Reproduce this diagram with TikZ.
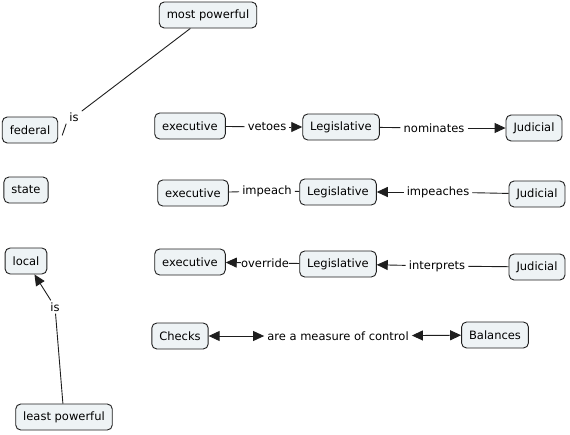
\documentclass[tikz,border=0pt]{standalone}
\usepackage{fontspec}
\setmainfont{DejaVu Sans}
\usetikzlibrary{arrows.meta}
\definecolor{boxfill}{RGB}{238,243,245}
\definecolor{boxline}{RGB}{30,30,30}
\begin{document}
\begin{tikzpicture}[x=1pt,y=-1pt,
  font=\fontsize{11.5}{13}\selectfont,
  concept/.style={draw=boxline,fill=boxfill,rounded corners=5pt,line width=0.9pt,minimum height=26pt,inner xsep=7.5pt,inner ysep=2pt},
  lbl/.style={inner xsep=3pt,inner ysep=2pt},
  link/.style={line width=0.9pt,draw=boxline},
  tip/.style={-{Triangle[length=11pt,width=10pt]}},
  both/.style={{Triangle[length=11pt,width=10pt]}-{Triangle[length=11pt,width=10pt]}}
]
\useasboundingbox (0,0) rectangle (570,434);
% left column
\node[concept] (mp) at (208,15) {most powerful};
\node[concept] (fed) at (30,130) {federal};
\node[concept] (st) at (26,190) {state};
\node[concept] (loc) at (26,261) {local};
\node[concept] (lp) at (64,417) {least powerful};
\node[lbl] (is1) at (74,117) {is};
\node[lbl] (is2) at (55,307) {is};
\coordinate (fedend) at ([shift={(4pt,8pt)}]fed.south east);
\draw[link] (mp) -- (is1);
\draw[link] (is1.south west) -- (fedend);
\draw[link] (lp) -- (is2);
\draw[link,tip] (is2) -- (loc);
% row 1
\node[concept] (ex1) at (190,126) {executive};
\node[concept] (le1) at (341,127) {Legislative};
\node[concept] (ju1) at (534,128) {Judicial};
\node[lbl] (vet) at (267,127) {vetoes};
\node[lbl] (nom) at (434,128) {nominates};
\draw[link] (ex1) -- (vet);
\draw[link,tip] (vet) -- (le1);
\draw[link] (le1) -- (nom);
\draw[link,tip] (nom) -- (ju1);
% row 2
\node[concept] (ex2) at (193,193) {executive};
\node[concept] (le2) at (338,192) {Legislative};
\node[concept] (ju2) at (537,194) {Judicial};
\node[lbl] (imp) at (267,191) {impeach};
\node[lbl] (imps) at (438,192) {impeaches};
\draw[link] (ex2) -- (imp);
\draw[link] (imp) -- (le2);
\draw[link] (ju2) -- (imps);
\draw[link,tip] (imps) -- (le2);
% row 3
\node[concept] (ex3) at (190,262) {executive};
\node[concept] (le3) at (338,264) {Legislative};
\node[concept] (ju3) at (537,267) {Judicial};
\node[lbl,inner xsep=0pt] (ov) at (265,263) {override};
\node[lbl] (intp) at (437,266) {interprets};
\draw[link] (le3) -- (ov);
\draw[link,tip] (ov) -- (ex3);
\draw[link] (ju3) -- (intp);
\draw[link,tip] (intp) -- (le3);
% checks and balances
\node[concept] (chk) at (180,336) {Checks};
\node[concept] (bal) at (495,335) {Balances};
\node[lbl] (meas) at (338,336) {are a measure of control};
\draw[link,both] (chk) -- (meas);
\draw[link,both] (meas) -- (bal);
\end{tikzpicture}
\end{document}
